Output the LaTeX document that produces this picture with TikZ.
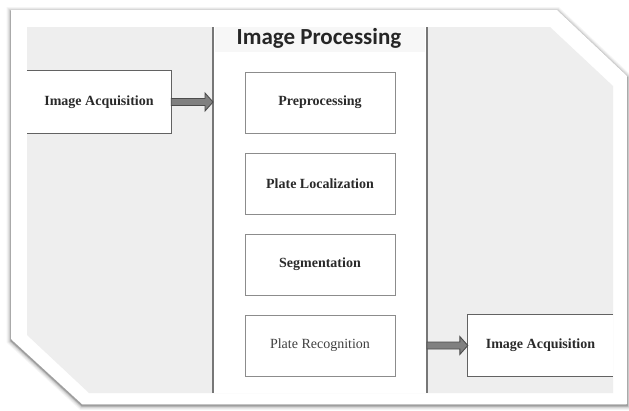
\documentclass[tikz,border=0pt]{standalone}
\usepackage{fontspec}
\setmainfont{Liberation Serif}
\newfontfamily\titlefont{Carlito}
\usetikzlibrary{calc}
\definecolor{panelgray}{HTML}{EEEEEE}
\definecolor{headgray}{HTML}{F7F7F7}
\definecolor{linegray}{HTML}{777777}
\definecolor{boxline}{HTML}{8C8C8C}
\definecolor{txtdark}{HTML}{2A2A2A}
\tikzset{
  procbox/.style={draw=boxline, line width=1pt, fill=white, minimum width=150pt, minimum height=61pt,
    font=\fontsize{14}{16}\selectfont\bfseries, text=txtdark, inner sep=0pt},
  sidebox/.style={fill=white, minimum height=62pt, inner sep=0pt,
    font=\fontsize{14}{16}\selectfont\bfseries, text=txtdark},
  sideline/.style={draw=boxline!70!black, line width=1.2pt},
  colline/.style={draw=linegray, line width=1.6pt},
  fatarrow/.style={fill=black!50, draw=black!70, line width=0.9pt, line join=miter},
}
\begin{document}
\begin{tikzpicture}[x=1pt, y=-1pt]
\useasboundingbox (0,0) rectangle (629,410);
\fill[white] (0,0) rectangle (629,410);
% outer shadow
\foreach \w/\o in {9/0.04,7/0.05,5/0.07,3/0.10,1.5/0.18}{
  \draw[black, opacity=\o, line width=\w pt, line join=miter]
    ([yshift=-1.5pt]11,10) -- ([yshift=-1.5pt]557,10) -- ([yshift=-1.5pt]627,76) -- ([yshift=-1.5pt]627,404) -- ([yshift=-1.5pt]82,404) -- ([yshift=-1.5pt]11,339) -- cycle;
}
\fill[white] (11,10) -- (557,10) -- (627,76) -- (627,404) -- (82,404) -- (11,339) -- cycle;
% inner gray panel
\fill[panelgray] (27,27) -- (550,27) -- (613,86) -- (613,393) -- (89,393) -- (27,335) -- cycle;
% middle white column
\fill[white] (213,27) rectangle (427,393);
\fill[headgray] (215,27) rectangle (425,52);
\coordinate (colL) at (213,27);
\coordinate (colLb) at (213,393);
\coordinate (colR) at (427,27);
\coordinate (colRb) at (427,393);
\draw[colline] (colL) -- (colLb);
\draw[colline] (colR) -- (colRb);
\node[font=\titlefont\fontsize{23}{26}\selectfont\bfseries, text=black!85] (title) at (319,38.5) {Image Processing};
% process boxes
\node[procbox] (pre) at (320,102.5) {Preprocessing};
\node[procbox] (loc) at (320,183.5) {Plate Localization};
\node[procbox] (seg) at (320,264.5) {Segmentation};
\node[procbox, font=\fontsize{14}{16}\selectfont, text=black!75] (rec) at (320,345.5) {Plate Recognition};
% left acquisition box
\node[sidebox, minimum width=144pt] (acq1) at (99,102) {Image Acquisition};
\draw[sideline] (acq1.north west) -- (acq1.north east) -- (acq1.south east) -- (acq1.south west);
% right acquisition box
\node[sidebox, minimum width=145pt] (acq2) at (540.5,345.5) {Image Acquisition};
\draw[sideline] (acq2.north east) -- (acq2.north west) -- (acq2.south west) -- (acq2.south east);
% arrows
\coordinate (a1e) at (colL |- acq1.east);
\draw[fatarrow] ($(acq1.east)+(0,-3.5)$) -- ($(a1e)+(-8,-3.5)$) -- ($(a1e)+(-8,-9)$) -- (a1e)
  -- ($(a1e)+(-8,9)$) -- ($(a1e)+(-8,3.5)$) -- ($(acq1.east)+(0,3.5)$) -- cycle;
\coordinate (a2s) at (colR |- acq2.west);
\draw[fatarrow] ($(a2s)+(0,-3.5)$) -- ($(acq2.west)+(-8,-3.5)$) -- ($(acq2.west)+(-8,-9)$) -- (acq2.west)
  -- ($(acq2.west)+(-8,9)$) -- ($(acq2.west)+(-8,3.5)$) -- ($(a2s)+(0,3.5)$) -- cycle;
\end{tikzpicture}
\end{document}
